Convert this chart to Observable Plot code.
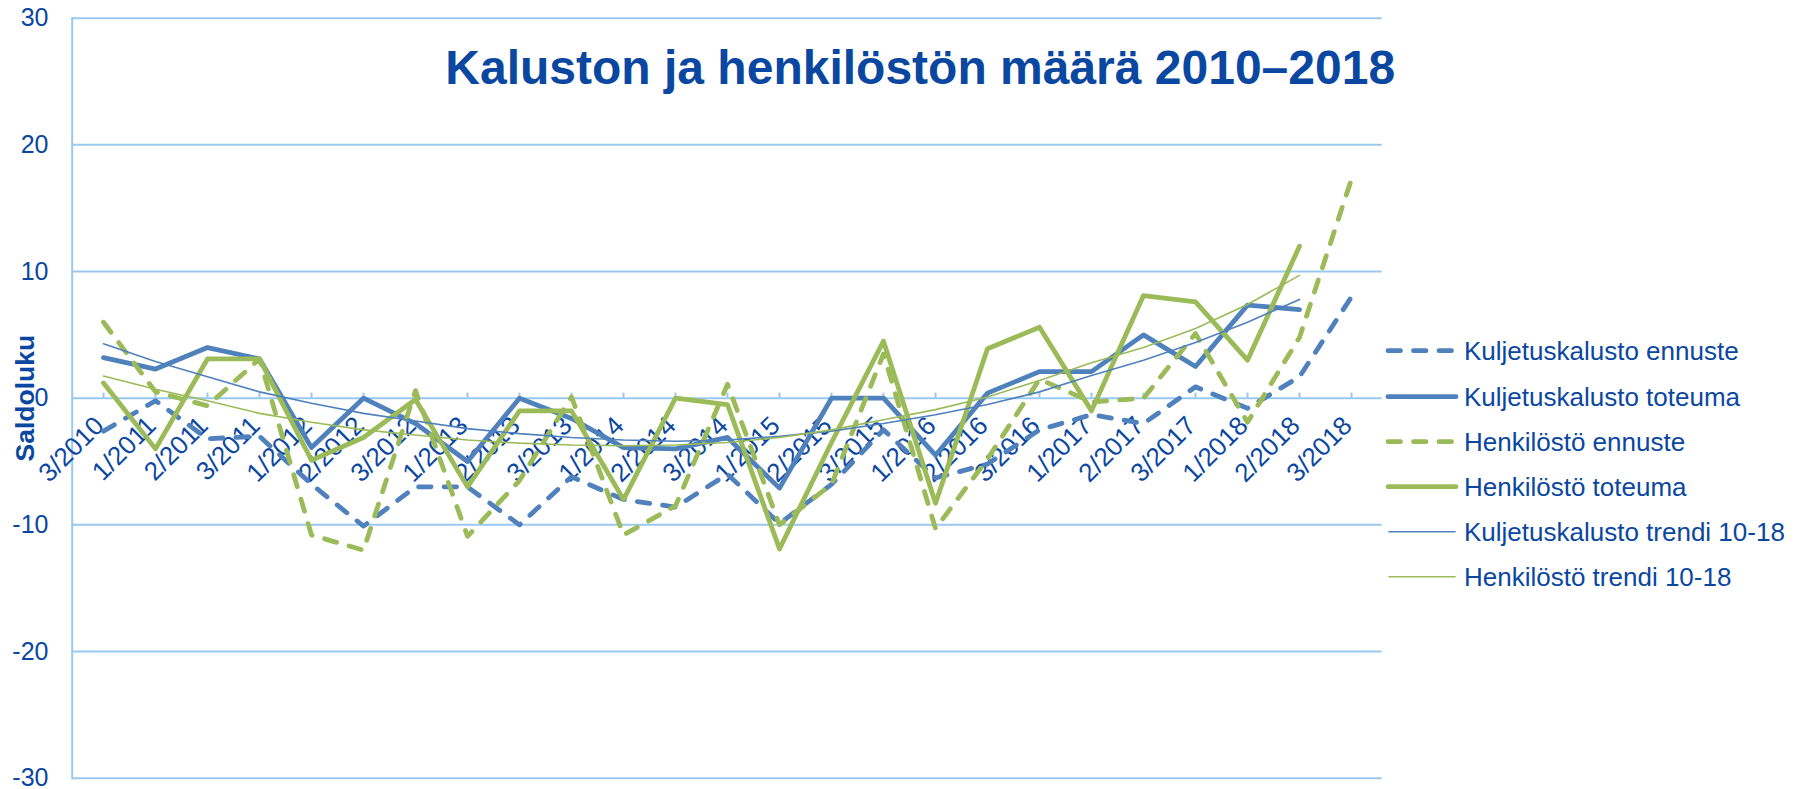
<!DOCTYPE html>
<html><head><meta charset="utf-8">
<script src="https://cdn.jsdelivr.net/npm/d3@7"></script>
<script src="https://cdn.jsdelivr.net/npm/@observablehq/plot@0.6"></script>
<style>
body{margin:0;background:#fff;}
#chart{position:relative;width:1808px;height:789px;}
</style>
</head><body><div id="chart"></div>
<script>
const categories = ["3/2010","1/2011","2/2011","3/2011","1/2012","2/2012","3/2012","1/2013","2/2013","3/2013","1/2014","2/2014","3/2014","1/2015","2/2015","3/2015","1/2016","2/2016","3/2016","1/2017","2/2017","3/2017","1/2018","2/2018","3/2018"];
const kuljetuskalustoEnnuste = [-2.6,-0.2,-3.2,-3.0,-6.8,-10.1,-7.0,-7.0,-10.0,-6.2,-8.0,-8.6,-6.0,-9.9,-6.8,-2.5,-6.3,-5.2,-2.5,-1.3,-2.0,0.9,-0.8,1.7,8.0];
const kuljetuskalustoToteuma = [3.2,2.3,4.0,3.1,-3.9,0.0,-2.0,-5.0,0.0,-1.6,-3.9,-4.0,-3.1,-7.1,0.0,0.0,-4.5,0.4,2.1,2.1,5.0,2.5,7.35,7.0,null];
const henkilostoEnnuste = [6.0,0.5,-0.6,3.1,-10.8,-12.0,0.6,-10.9,-6.5,0.1,-10.8,-8.5,1.1,-10.0,-6.8,3.5,-10.3,-4.8,1.5,-0.3,0.0,5.1,-1.9,4.8,17.3];
const henkilostoToteuma = [1.2,-4.0,3.1,3.1,-4.9,-3.1,-0.1,-7.0,-1.0,-1.0,-8.0,0.0,-0.5,-11.9,-3.5,4.5,-8.3,3.9,5.6,-1.0,8.1,7.6,3.0,12.0,null];
const kuljetuskalustoTrendi = [4.3,2.9,1.7,0.5,-0.4,-1.2,-1.8,-2.4,-2.8,-3.1,-3.3,-3.4,-3.3,-3.0,-2.6,-2.0,-1.3,-0.5,0.5,1.8,3.0,4.4,6.0,7.8,null];
const henkilostoTrendi = [1.75,0.7,-0.2,-1.2,-1.9,-2.5,-2.9,-3.3,-3.55,-3.7,-3.75,-3.7,-3.5,-3.1,-2.5,-1.7,-0.9,0.1,1.4,2.8,4.0,5.5,7.4,9.7,null];
const seriesNames = ["Kuljetuskalusto ennuste","Kuljetuskalusto toteuma","Henkilöstö ennuste","Henkilöstö toteuma","Kuljetuskalusto trendi 10-18","Henkilöstö trendi 10-18"];
const yTicks = [-30,-20,-10,0,10,20,30];
const yDomain = [-30,30];
const titleText = "Kaluston ja henkilöstön määrä 2010–2018";
const yLabel = "Saldoluku";

const W = 1808, H = 789;
const mL = 71.7, mR = 426.3, mT = 17.7, mB = 11.3;
const BLUE = "#4f81bd", GREEN = "#9bbb59", TXT = "#0a47a1", GRID = "#99c9ef";
const FONT = "'Liberation Sans', Arial, sans-serif";
const DASH = "12.5,13";
const step = (W - mR - mL) / categories.length;

const styles = [
  {stroke: BLUE, width: 4.8, dash: DASH},
  {stroke: BLUE, width: 4.8, dash: null},
  {stroke: GREEN, width: 4.8, dash: DASH},
  {stroke: GREEN, width: 4.8, dash: null},
  {stroke: BLUE, width: 1.6, dash: null},
  {stroke: GREEN, width: 1.6, dash: null}
];
const seriesValues = [kuljetuskalustoEnnuste, kuljetuskalustoToteuma, henkilostoEnnuste, henkilostoToteuma, kuljetuskalustoTrendi, henkilostoTrendi];

function rows(values) {
  return values.map((v, i) => ({cat: categories[i], value: v})).filter(d => d.value != null);
}

const lineMarks = seriesValues.map((vals, k) => Plot.line(rows(vals), {
  x: "cat", y: "value",
  stroke: styles[k].stroke,
  strokeWidth: styles[k].width,
  strokeDasharray: styles[k].dash || undefined,
  strokeLinecap: "round",
  strokeLinejoin: "round"
}));

const plot = Plot.plot({
  width: W, height: H,
  marginLeft: mL, marginRight: mR, marginTop: mT, marginBottom: mB,
  style: {fontFamily: FONT, background: "#fff", overflow: "visible"},
  x: {type: "point", domain: categories, padding: 0, range: [mL + step / 2, W - mR - step / 2], axis: null},
  y: {domain: yDomain, axis: null},
  marks: [
    Plot.gridY(yTicks, {stroke: GRID, strokeOpacity: 1, strokeWidth: 2}),
    Plot.frame({anchor: "left", stroke: GRID, strokeWidth: 2}),
    Plot.ruleX(categories, {x: d => d, y1: () => 0, y2: () => 0.4, stroke: GRID, strokeWidth: 2}),
    Plot.axisY(yTicks, {tickSize: 0, tickPadding: 23.7, fontSize: 25, fill: TXT, label: null, tickFormat: d => String(d)}),
    Plot.text(categories, {x: d => d, y: () => 0, text: d => d, rotate: -45, textAnchor: "end", lineAnchor: "bottom", fontSize: 26, fill: TXT, dx: 2, dy: 29}),
    Plot.text([titleText], {frameAnchor: "top", text: d => d, dx: 193, dy: 50, fontSize: 48, fontWeight: "bold", fill: TXT, lineAnchor: "middle", textAnchor: "middle"}),
    Plot.text([yLabel], {frameAnchor: "left", text: d => d, rotate: -90, dx: -46.7, fontSize: 26.5, fontWeight: "bold", fill: TXT, lineAnchor: "middle", textAnchor: "middle"}),
    ...lineMarks
  ]
});

document.getElementById("chart").appendChild(plot);

// Legend
const svg = d3.select(plot);
const legendRows = [350.7, 396.7, 441.7, 486.7, 531.7, 576.7];
const lg = svg.append("g").attr("font-family", FONT).attr("font-size", 26).attr("fill", TXT).attr("text-anchor", "start");
seriesNames.forEach((name, k) => {
  const y = legendRows[k];
  const s = styles[k];
  const thin = s.width < 2;
  lg.append("line")
    .attr("x1", thin ? 1389 : 1388).attr("x2", thin ? 1455 : 1456)
    .attr("y1", y).attr("y2", y)
    .attr("stroke", s.stroke).attr("stroke-width", s.width)
    .attr("stroke-linecap", "round")
    .attr("stroke-dasharray", s.dash);
  lg.append("text").attr("x", 1464).attr("y", y).attr("dy", "0.35em").attr("text-anchor", "start").text(name);
});
</script>
</body></html>
